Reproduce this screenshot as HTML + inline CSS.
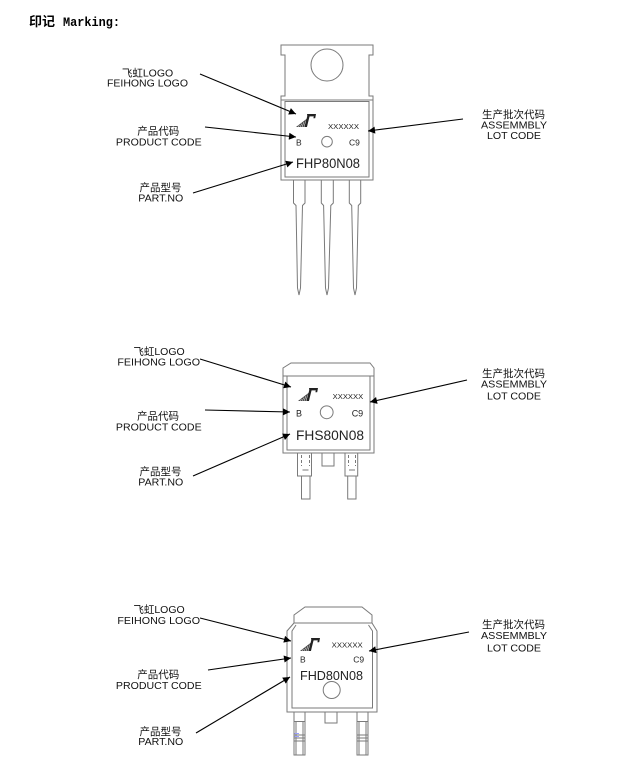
<!DOCTYPE html>
<html>
<head>
<meta charset="utf-8">
<style>
  html,body{margin:0;padding:0;background:#fff;}
  svg{display:block;}
  .lb{font-family:"Liberation Sans","Noto Sans CJK SC",sans-serif;font-size:10.5px;fill:#111;text-anchor:middle;}
  .pk{fill:none;stroke:#7a7a7a;stroke-width:1;}
  .pt{font-family:"Liberation Sans",sans-serif;fill:#222;}
  .ar{stroke:#000;stroke-width:1.1;fill:none;}
</style>
</head>
<body>
<svg width="642" height="770" viewBox="0 0 642 770" xmlns="http://www.w3.org/2000/svg">
  <defs>
    <marker id="a" viewBox="0 0 10 10" refX="10" refY="5" markerWidth="9" markerHeight="7" orient="auto" markerUnits="userSpaceOnUse">
      <path d="M0,0 L10,5 L0,10 Z" fill="#000"/>
    </marker>
    <g id="logo">
      <path d="M0,13 L11,13 L11.8,4 Z" fill="#444"/>
      <path d="M2,13 L3.5,11 M4,13 L6,9.5 M6,13 L8,8 M8,13 L10,6.5" stroke="#fff" stroke-width="0.5"/>
      <path d="M8.5,13 L11.4,1.5 L13.8,1.5 L10.9,13 Z" fill="#222"/>
      <path d="M11,0 L20,0 L19.2,4.2 L17.4,4.2 L17.8,2.4 L11.4,2.4 Z" fill="#222"/>
    </g>
  </defs>
  <rect width="642" height="770" fill="#fff"/>

  <!-- Title -->
  <text x="29" y="26" font-family="'Noto Sans CJK SC','WenQuanYi Zen Hei',sans-serif" font-weight="bold" font-size="13" fill="#000">印记</text>
  <text x="63" y="26" font-family="'Liberation Mono',monospace" font-weight="bold" font-size="12.5" fill="#000" textLength="57" lengthAdjust="spacingAndGlyphs">Marking:</text>

  <!-- ========== Section 1: TO-220 ========== -->
  <g class="pk">
    <path d="M281,45 H373 V55 H369 V96 H373 V180 H281 V96 H285 V55 H281 Z"/>
    <line x1="281" y1="100" x2="373" y2="100"/>
    <rect x="285" y="101.5" width="84" height="75.5"/>
    <circle cx="327" cy="65" r="16"/>
    <circle cx="327" cy="141.7" r="5.3"/>
    <!-- leads -->
    <path d="M293.5,180 V203 L296,205.5 L297.5,288 L299,295 L300.5,288 L302.5,205.5 L305,203 V180"/>
    <path d="M321.3,180 V203 L323.6,205.5 L325.5,288 L327,295 L328.5,288 L330.8,205.5 L333.3,203 V180"/>
    <path d="M349.3,180 V203 L351.7,205.5 L353.5,288 L355,295 L356.5,288 L358.3,205.5 L360.7,203 V180"/>
  </g>
  <use href="#logo" x="296" y="114"/>
  <text class="pt" x="328" y="129" font-size="7" textLength="31" lengthAdjust="spacingAndGlyphs">XXXXXX</text>
  <text class="pt" x="296" y="145.5" font-size="8.5">B</text>
  <text class="pt" x="349" y="145.5" font-size="8.5">C9</text>
  <text class="pt" x="296" y="168" font-size="13.5" textLength="64" lengthAdjust="spacingAndGlyphs">FHP80N08</text>

  <text class="lb" x="147.5" y="76.5">飞虹LOGO</text>
  <text class="lb" x="147.5" y="86.7" textLength="81" lengthAdjust="spacingAndGlyphs">FEIHONG LOGO</text>
  <text class="lb" x="158.3" y="134.5">产品代码</text>
  <text class="lb" x="158.8" y="145.7" textLength="85.7" lengthAdjust="spacingAndGlyphs">PRODUCT CODE</text>
  <text class="lb" x="160.5" y="191">产品型号</text>
  <text class="lb" x="160.8" y="201.7" textLength="45" lengthAdjust="spacingAndGlyphs">PART.NO</text>
  <text class="lb" x="513.5" y="118">生产批次代码</text>
  <text class="lb" x="514" y="128.3" textLength="66" lengthAdjust="spacingAndGlyphs">ASSEMMBLY</text>
  <text class="lb" x="514" y="139" textLength="54" lengthAdjust="spacingAndGlyphs">LOT CODE</text>

  <line class="ar" x1="200" y1="74" x2="296" y2="114" marker-end="url(#a)"/>
  <line class="ar" x1="205" y1="127" x2="296" y2="137" marker-end="url(#a)"/>
  <line class="ar" x1="193" y1="193" x2="293" y2="162" marker-end="url(#a)"/>
  <line class="ar" x1="463" y1="119" x2="368" y2="131" marker-end="url(#a)"/>

  <!-- ========== Section 2: TO-263 ========== -->
  <g class="pk">
    <path d="M291,363 H370 L374,368 V453 H283 V368 Z"/>
    <line x1="283" y1="376" x2="374" y2="376"/>
    <path d="M287,376 V450 H370 V376"/>
    <circle cx="326.7" cy="412.3" r="6.4"/>
    <!-- leads -->
    <rect x="297.5" y="453" width="14" height="23"/>
    <rect x="301.5" y="476" width="8.5" height="23"/>
    <line x1="301.5" y1="455" x2="301.5" y2="466" stroke-dasharray="3,2"/>
    <line x1="309.5" y1="455" x2="309.5" y2="466" stroke-dasharray="3,2"/>
    <line x1="302.5" y1="470" x2="308.5" y2="470"/>
    <rect x="322" y="453" width="12" height="13"/>
    <rect x="345" y="453" width="12.7" height="23"/>
    <rect x="347.7" y="476" width="8.3" height="23"/>
    <line x1="348.5" y1="455" x2="348.5" y2="466" stroke-dasharray="3,2"/>
    <line x1="355.5" y1="455" x2="355.5" y2="466" stroke-dasharray="3,2"/>
    <line x1="349" y1="470" x2="355" y2="470"/>
  </g>
  <use href="#logo" x="298" y="388"/>
  <text class="pt" x="332.7" y="399" font-size="7" textLength="30.5" lengthAdjust="spacingAndGlyphs">XXXXXX</text>
  <text class="pt" x="296" y="416.7" font-size="9">B</text>
  <text class="pt" x="351.7" y="416.7" font-size="9">C9</text>
  <text class="pt" x="296" y="440" font-size="14" textLength="68" lengthAdjust="spacingAndGlyphs">FHS80N08</text>

  <text class="lb" x="159" y="355">飞虹LOGO</text>
  <text class="lb" x="158.7" y="365.7" textLength="82.7" lengthAdjust="spacingAndGlyphs">FEIHONG LOGO</text>
  <text class="lb" x="158" y="419.5">产品代码</text>
  <text class="lb" x="158.8" y="430.7" textLength="85.7" lengthAdjust="spacingAndGlyphs">PRODUCT CODE</text>
  <text class="lb" x="160.5" y="475">产品型号</text>
  <text class="lb" x="160.8" y="485.7" textLength="45" lengthAdjust="spacingAndGlyphs">PART.NO</text>
  <text class="lb" x="513.5" y="377">生产批次代码</text>
  <text class="lb" x="514" y="387.5" textLength="66" lengthAdjust="spacingAndGlyphs">ASSEMMBLY</text>
  <text class="lb" x="514" y="399.5" textLength="54" lengthAdjust="spacingAndGlyphs">LOT CODE</text>

  <line class="ar" x1="200" y1="359" x2="291" y2="387" marker-end="url(#a)"/>
  <line class="ar" x1="205" y1="410" x2="290" y2="412" marker-end="url(#a)"/>
  <line class="ar" x1="193" y1="476" x2="290" y2="434" marker-end="url(#a)"/>
  <line class="ar" x1="467" y1="380" x2="370" y2="402" marker-end="url(#a)"/>

  <!-- ========== Section 3: TO-252 ========== -->
  <g class="pk">
    <path d="M305,607 H362 L372,615 V623 L377,631 V712 H287 V631 L294,623 V615 Z"/>
    <line x1="294" y1="623" x2="372" y2="623"/>
    <path d="M296,625 L292,631 V708 H372.5 V631 L368.5,625"/>
    <circle cx="331.7" cy="690" r="8.5"/>
    <!-- leads -->
    <rect x="294" y="712" width="11" height="43"/>
    <line x1="296" y1="721.5" x2="296" y2="755"/>
    <line x1="303" y1="721.5" x2="303" y2="755"/>
    <line x1="294" y1="721.5" x2="305" y2="721.5"/>
    <line x1="294" y1="735" x2="305" y2="735"/>
    <line x1="294" y1="738" x2="305" y2="738"/>
    <line x1="294" y1="741" x2="305" y2="741"/>
    <rect x="325" y="712" width="12" height="11"/>
    <rect x="357" y="712" width="11" height="43"/>
    <line x1="359" y1="721.5" x2="359" y2="755"/>
    <line x1="366" y1="721.5" x2="366" y2="755"/>
    <line x1="357" y1="721.5" x2="368" y2="721.5"/>
    <line x1="357" y1="735" x2="368" y2="735"/>
    <line x1="357" y1="738" x2="368" y2="738"/>
    <line x1="357" y1="741" x2="368" y2="741"/>
  </g>
  <line x1="294.5" y1="733.5" x2="299" y2="733.5" stroke="#9aa0ff" stroke-width="1"/>
  <line x1="294.5" y1="736.5" x2="299" y2="736.5" stroke="#9aa0ff" stroke-width="1"/>
  <use href="#logo" x="300" y="638"/>
  <text class="pt" x="331.7" y="647.5" font-size="7" textLength="31" lengthAdjust="spacingAndGlyphs">XXXXXX</text>
  <text class="pt" x="300" y="662.7" font-size="8.5">B</text>
  <text class="pt" x="353.3" y="662.7" font-size="8.5">C9</text>
  <text class="pt" x="300" y="680" font-size="13" textLength="63" lengthAdjust="spacingAndGlyphs">FHD80N08</text>

  <text class="lb" x="159" y="613">飞虹LOGO</text>
  <text class="lb" x="158.7" y="624" textLength="82.7" lengthAdjust="spacingAndGlyphs">FEIHONG LOGO</text>
  <text class="lb" x="158.3" y="678">产品代码</text>
  <text class="lb" x="158.8" y="689" textLength="85.7" lengthAdjust="spacingAndGlyphs">PRODUCT CODE</text>
  <text class="lb" x="160.5" y="735">产品型号</text>
  <text class="lb" x="160.8" y="745" textLength="45" lengthAdjust="spacingAndGlyphs">PART.NO</text>
  <text class="lb" x="513.5" y="628">生产批次代码</text>
  <text class="lb" x="514" y="638.8" textLength="66" lengthAdjust="spacingAndGlyphs">ASSEMMBLY</text>
  <text class="lb" x="514" y="651.5" textLength="54" lengthAdjust="spacingAndGlyphs">LOT CODE</text>

  <line class="ar" x1="200" y1="618" x2="291" y2="641" marker-end="url(#a)"/>
  <line class="ar" x1="208" y1="670" x2="291" y2="658" marker-end="url(#a)"/>
  <line class="ar" x1="196" y1="733" x2="290" y2="677" marker-end="url(#a)"/>
  <line class="ar" x1="469" y1="632" x2="369" y2="651" marker-end="url(#a)"/>
</svg>
</body>
</html>
